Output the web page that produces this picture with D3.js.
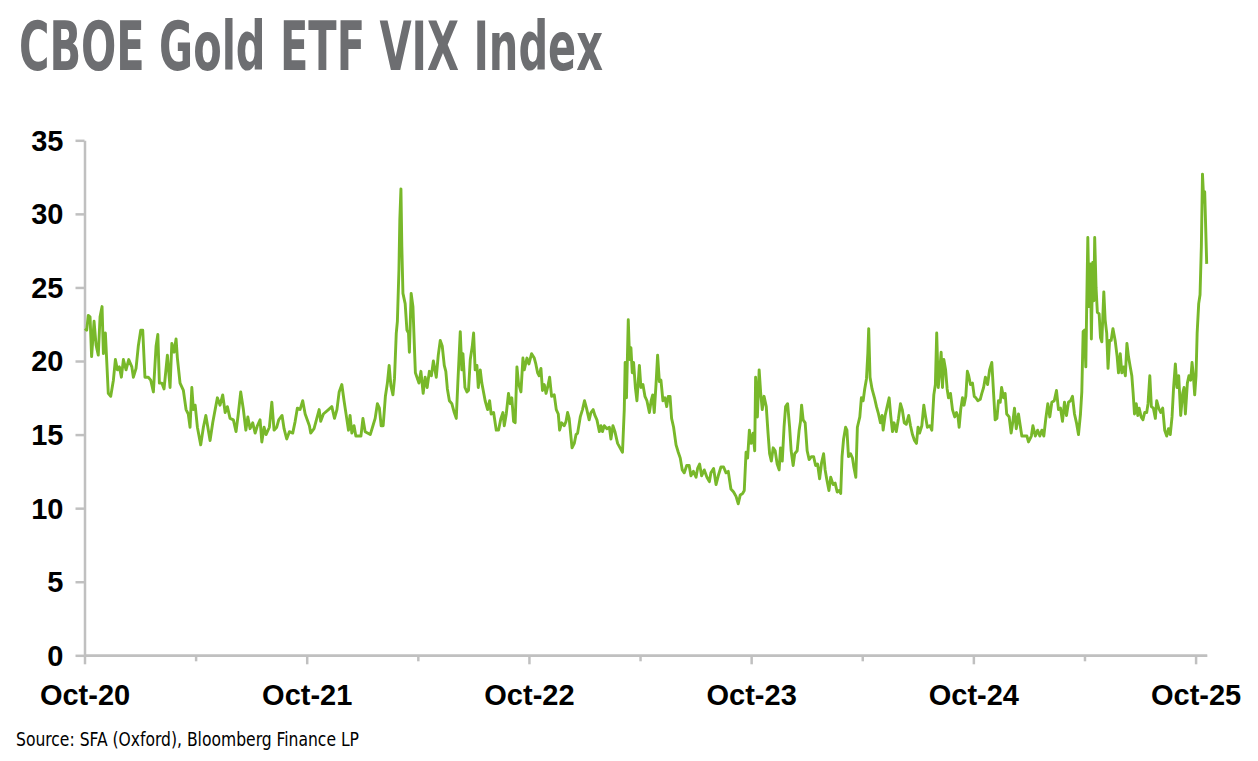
<!DOCTYPE html>
<html>
<head>
<meta charset="utf-8">
<script src="https://cdn.jsdelivr.net/npm/d3@7"></script>
<style>
  html, body { margin: 0; padding: 0; background: #fff; }
  svg { display: block; }
  .axis path, .axis line { stroke: #c0c0c0; stroke-width: 2.5; }
  .axis text { font-family: 'Liberation Sans', Arial, sans-serif; font-weight: bold; font-size: 29px; fill: #000; }
  .line { fill: none; stroke: #78b82a; stroke-width: 2.9; stroke-linejoin: round; }
</style>
</head>
<body>
<script>
// values, time as decimal years
const t1 = [2020.752,2020.760,2020.767,2020.775,2020.782,2020.793,2020.802,2020.812,2020.820,2020.829,2020.835,2020.844,2020.857,2020.868,2020.880,2020.889,2020.898,2020.907,2020.916,2020.925,2020.937,2020.949,2020.963,2020.970,2020.982,2020.992,
  2021.003,2021.012,2021.022,2021.037,2021.048,2021.060,2021.072,2021.080,2021.087,2021.098,2021.108,2021.123,2021.135,2021.143,2021.153,2021.162,2021.168,2021.180,2021.195,2021.207,2021.217,2021.225,2021.233,2021.240,2021.248,2021.258,2021.273,2021.285,2021.296,2021.305,2021.315,2021.327,2021.338,2021.348,2021.360,2021.372,2021.383,2021.393,2021.405,2021.420,2021.432,2021.442,2021.453,2021.465,2021.476,2021.485,2021.495,2021.507,2021.518,2021.528,2021.540,2021.548,2021.558,2021.567,2021.582,2021.593,2021.603,2021.615,2021.624,2021.639,2021.648,2021.660,2021.672,2021.687,2021.698,2021.708,2021.720,2021.732,2021.743,2021.762];
const v1 = [22.2,22.1,23.1,23.0,20.3,22.7,21.1,20.4,23.0,23.7,20.5,21.9,17.8,17.6,18.7,20.1,19.4,19.6,18.9,20.1,19.4,20.1,19.6,18.9,19.5,21.0,
  22.1,22.1,18.9,18.9,18.7,17.9,21.0,21.8,18.5,18.5,18.1,20.4,18.2,21.2,20.6,21.5,20.2,18.5,18.0,16.7,16.4,15.5,18.2,16.7,17.0,15.5,14.3,15.5,16.3,15.5,14.6,15.8,16.7,17.5,17.0,17.7,16.5,16.9,16.1,16.0,15.2,16.4,17.9,16.7,15.3,16.2,15.4,15.8,15.1,15.6,16.0,14.5,15.5,15.0,15.5,17.2,15.3,15.5,16.0,16.3,15.4,14.7,15.2,15.1,15.9,16.8,16.7,17.3,16.4,15.6];

const t2 = [2021.768,2021.783,2021.806,2021.813,2021.825,2021.848,2021.863,2021.875,2021.886,2021.896,2021.908,2021.918,2021.931,2021.938,2021.945,2021.953,2021.963,2021.971,2021.994,
  2022.003,2022.013,2022.036,2022.048,2022.058,2022.068,2022.077,2022.085,2022.094,2022.104,2022.113,2022.121,2022.129,2022.138,2022.145,2022.153,2022.158,2022.165,2022.169,2022.174,2022.178,2022.183,2022.193,2022.201,2022.208,2022.212,2022.220,2022.228,2022.234,2022.239,2022.255,2022.264,2022.274,2022.283,2022.292,2022.302,2022.311,2022.320,2022.333,2022.342,2022.351,2022.360,2022.369,2022.376,2022.383,2022.392,2022.403,2022.414,2022.423,2022.430,2022.441,2022.448,2022.453,2022.462,2022.471,2022.478,2022.486,2022.495,2022.501,2022.508,2022.516,2022.522,2022.531,2022.538,2022.553,2022.564,2022.573,2022.580,2022.591,2022.603,2022.613,2022.624,2022.633,2022.639,2022.648,2022.658,2022.666,2022.673,2022.681,2022.688,2022.696,2022.703,2022.714,2022.723,2022.729,2022.741,2022.750,2022.762];
const v2 = [15.1,15.4,16.7,15.9,16.4,16.7,16.9,16.1,16.7,17.9,18.4,17.3,16.0,15.3,16.3,15.1,15.6,14.9,14.9,
  16.1,15.2,15.0,15.6,16.1,17.1,16.8,15.6,15.6,17.6,18.5,19.7,18.3,17.7,18.8,21.9,22.7,26.2,29.6,31.7,27.8,24.6,23.9,22.1,21.9,20.6,24.6,23.7,21.2,19.2,18.5,19.3,17.8,18.9,18.2,19.3,19.0,20.0,18.9,20.4,21.4,21.0,19.7,19.3,18.1,17.3,17.1,16.5,16.1,18.5,22.0,19.4,20.5,18.2,17.9,18.0,20.1,21.0,21.9,19.4,19.7,18.2,19.4,18.5,17.3,16.7,17.3,16.4,16.5,15.3,15.3,16.1,16.5,15.6,16.4,17.8,17.1,17.5,15.9,15.8,19.6,18.5,17.9,20.2,19.4,20.2,19.8,20.5];

const t3 = [2022.774,2022.781,2022.789,2022.796,2022.804,2022.811,2022.819,2022.827,2022.834,2022.843,2022.852,2022.864,2022.873,2022.882,2022.888,2022.897,2022.909,2022.917,2022.924,2022.931,2022.944,2022.954,2022.962,2022.969,2022.981,2022.991,
  2023.000,2023.009,2023.021,2023.029,2023.039,2023.047,2023.056,2023.067,2023.074,2023.081,2023.089,2023.101,2023.112,2023.119,2023.128,2023.137,2023.149,2023.160,2023.171,2023.179,2023.183,2023.189,2023.197,2023.203,2023.209,2023.215,2023.221,2023.229,2023.236,2023.247,2023.254,2023.263,2023.272,2023.281,2023.292,2023.300,2023.307,2023.314,2023.323,2023.329,2023.337,2023.344,2023.353,2023.362,2023.370,2023.377,2023.385,2023.392,2023.401,2023.412,2023.422,2023.431,2023.440,2023.449,2023.460,2023.471,2023.479,2023.490,2023.502,2023.509,2023.518,2023.527,2023.539,2023.551,2023.562,2023.569,2023.581,2023.592,2023.602,2023.614,2023.626,2023.637,2023.647,2023.659,2023.671,2023.682,2023.692,2023.701,2023.712,2023.719,2023.727,2023.734,2023.742,2023.750,2023.759];
const v3 = [20.2,19.8,19.2,19.0,19.5,18.0,18.4,17.8,18.2,18.9,17.6,17.7,16.7,16.4,15.3,15.8,15.6,15.9,16.5,16.1,14.1,14.4,15.0,15.1,16.2,16.7,
  17.3,16.8,16.0,16.5,16.7,16.3,16.0,15.2,15.6,15.2,15.6,15.4,15.5,14.7,15.6,15.2,14.4,14.1,13.8,16.7,19.9,17.5,22.8,20.1,20.9,19.2,19.9,18.2,17.3,19.7,18.2,18.4,17.6,17.3,16.5,17.3,17.7,16.5,18.7,20.4,18.6,18.7,17.3,17.5,16.9,17.6,17.6,16.1,15.5,14.3,13.8,13.4,12.6,12.4,12.9,12.9,12.2,12.5,12.1,12.7,13.0,12.2,12.6,12.1,11.8,12.4,12.7,11.6,12.2,12.8,12.8,12.4,12.5,11.3,11.1,10.8,10.3,10.9,11.0,11.2,13.8,13.4,15.3,14.4,15.1];

const t4 = [2023.766,2023.770,2023.778,2023.786,2023.793,2023.800,2023.808,2023.818,2023.826,2023.833,2023.841,2023.849,2023.858,2023.867,2023.876,2023.882,2023.890,2023.898,2023.905,2023.914,2023.923,2023.930,2023.939,2023.946,2023.957,2023.966,2023.972,2023.977,2023.984,2023.993,
  2024.002,2024.011,2024.021,2024.031,2024.040,2024.049,2024.058,2024.067,2024.076,2024.083,2024.091,2024.100,2024.108,2024.119,2024.128,2024.137,2024.146,2024.153,2024.159,2024.166,2024.175,2024.181,2024.188,2024.197,2024.206,2024.212,2024.221,2024.228,2024.239,2024.246,2024.254,2024.261,2024.269,2024.275,2024.279,2024.285,2024.294,2024.305,2024.314,2024.323,2024.332,2024.339,2024.344,2024.353,2024.362,2024.371,2024.378,2024.386,2024.393,2024.403,2024.413,2024.422,2024.430,2024.439,2024.448,2024.459,2024.467,2024.476,2024.485,2024.494,2024.501,2024.508,2024.518,2024.527,2024.534,2024.543,2024.554,2024.563,2024.572,2024.579,2024.585,2024.592,2024.599,2024.605,2024.611,2024.617,2024.625,2024.632,2024.638,2024.647,2024.656,2024.666,2024.674,2024.681,2024.686,2024.693,2024.701,2024.708,2024.716,2024.723,2024.729,2024.737,2024.746,2024.754,2024.761];
const v4 = [13.9,18.9,16.2,19.4,17.8,16.7,17.6,16.9,15.1,13.7,13.2,14.1,13.9,13.0,12.6,14.1,13.2,15.5,16.9,17.1,15.5,13.9,12.9,13.7,13.9,15.3,15.9,17.0,16.0,15.8,
  13.9,13.3,13.5,13.5,12.9,13.0,12.0,13.1,13.7,12.6,11.9,11.2,12.1,11.6,11.7,11.1,11.2,11.0,13.5,14.7,15.5,15.3,13.5,13.7,13.4,12.8,12.1,15.5,16.2,17.5,17.3,18.1,18.8,20.5,22.2,18.9,18.1,17.5,16.9,16.4,15.8,16.3,15.3,16.3,16.9,17.5,16.3,15.2,15.8,15.2,16.1,17.1,16.7,15.8,15.7,16.3,15.6,15.0,14.6,14.4,15.5,15.1,15.6,17.0,16.3,15.5,15.6,15.3,17.7,18.4,21.9,18.2,19.4,20.6,18.2,20.1,19.4,18.1,17.5,17.8,16.7,16.2,16.5,16.2,15.5,16.7,17.5,17.0,17.6,19.3,19.0,18.4,18.5,17.6,17.5];

const t5 = [2024.770,2024.781,2024.788,2024.796,2024.804,2024.814,2024.823,2024.833,2024.841,2024.848,2024.856,2024.863,2024.871,2024.877,2024.886,2024.893,2024.900,2024.911,2024.920,2024.927,2024.935,2024.943,2024.953,2024.961,2024.968,2024.980,2024.991,2024.998,
  2025.011,2025.018,2025.029,2025.039,2025.049,2025.058,2025.067,2025.076,2025.085,2025.094,2025.103,2025.114,2025.124,2025.133,2025.142,2025.151,2025.160,2025.169,2025.178,2025.187,2025.196,2025.205,2025.214,2025.223,2025.232,2025.238,2025.244,2025.250,2025.256,2025.260,2025.265,2025.271,2025.277,2025.281,2025.287,2025.292,2025.296,2025.302,2025.308,2025.316,2025.322,2025.328,2025.337,2025.343,2025.350,2025.356,2025.363,2025.370,2025.378,2025.388,2025.397,2025.403,2025.411,2025.418,2025.426,2025.434,2025.441,2025.448,2025.456,2025.463,2025.469,2025.475,2025.483,2025.490,2025.496,2025.505,2025.513,2025.521,2025.530,2025.536,2025.544,2025.551,2025.560,2025.569,2025.575,2025.584,2025.593,2025.602,2025.611,2025.620,2025.628,2025.636,2025.644,2025.651,2025.659,2025.666,2025.674,2025.683,2025.692,2025.698,2025.704,2025.713,2025.720,2025.728,2025.734,2025.740,2025.746,2025.752,2025.757,2025.764,2025.770,2025.776,2025.781,2025.787,2025.791,2025.800];
const v5 = [17.3,17.4,17.8,18.2,18.9,18.4,19.4,19.9,17.8,16.0,16.1,17.3,17.2,18.2,17.5,17.8,16.4,16.2,15.1,15.8,16.8,15.4,16.4,15.6,14.9,14.9,14.9,14.5,
  14.9,15.6,14.9,15.3,14.9,15.3,14.9,16.1,17.1,16.2,17.2,17.3,18.0,16.7,16.8,15.9,17.2,16.3,17.2,17.3,17.6,16.4,15.8,15.0,16.4,17.9,22.0,22.1,19.6,23.7,28.4,23.7,26.6,21.5,26.7,24.1,28.4,25.0,23.3,23.2,21.6,21.3,24.7,22.8,21.9,19.5,21.4,21.4,22.2,21.4,20.3,19.2,20.5,19.2,19.6,19.0,21.2,20.3,19.6,19.0,17.8,16.4,17.1,16.3,16.8,16.2,16.0,16.5,16.5,17.1,19.0,16.9,16.8,16.1,17.3,16.8,16.5,16.8,15.3,14.9,15.4,15.0,16.2,18.2,19.8,18.2,19.0,16.3,17.8,18.2,16.4,18.5,19.0,18.7,19.9,19.0,17.7,19.0,21.9,23.9,24.5,27.8,32.7,30.8,31.5,26.6];

const yTicks = [0, 5, 10, 15, 20, 25, 30, 35];
const majorTicks = [2020.75, 2021.75, 2022.75, 2023.75, 2024.75, 2025.75];
const majorLabels = ["Oct-20", "Oct-21", "Oct-22", "Oct-23", "Oct-24", "Oct-25"];
const minorTicks = [2021.25, 2022.25, 2023.25, 2024.25, 2025.25];

const title = "CBOE Gold ETF VIX Index";
const source = "Source: SFA (Oxford), Bloomberg Finance LP";

let times = [].concat(t1, t2, t3, t4, t5);
let vals = [].concat(v1, v2, v3, v4, v5);
let data = times.map((t, i) => ({t: t, v: vals[i]}));

let W = 1258, H = 761;
let margin = {top: 140.3, left: 84.5}
  , width = 1206.7 - margin.left
  , height = 655.3 - margin.top;

let xScale = d3.scaleLinear().domain([2020.75, 2025.8]).range([0, width]);
let yScale = d3.scaleLinear().domain([0, 35]).range([height, 0]);

let line = d3.line()
    .x(d => xScale(d.t))
    .y(d => yScale(d.v));

const svg = d3.select("body").append("svg")
    .attr("width", W)
    .attr("height", H);

// title
svg.append("text")
    .attr("x", 19)
    .attr("y", 70)
    .attr("textLength", 584)
    .attr("lengthAdjust", "spacingAndGlyphs")
    .style("font-family", "'Liberation Sans Narrow', 'DejaVu Sans Condensed', sans-serif")
    .style("font-weight", "bold")
    .style("font-size", "67px")
    .style("fill", "#6d6e71")
    .text(title);

// source note
svg.append("text")
    .attr("x", 16)
    .attr("y", 746)
    .attr("textLength", 343)
    .attr("lengthAdjust", "spacingAndGlyphs")
    .style("font-family", "'Liberation Sans Narrow', 'DejaVu Sans Condensed', sans-serif")
    .style("font-size", "20px")
    .style("fill", "#000")
    .text(source);

const g = svg.append("g")
    .attr("transform", "translate(" + margin.left + "," + margin.top + ")");

// y axis
g.append("g")
    .attr("class", "y axis")
    .call(d3.axisLeft(yScale).tickValues(yTicks).tickSize(9).tickSizeOuter(0).tickPadding(12));

// minor x ticks (Apr)
g.append("g")
    .attr("class", "x axis minor")
    .attr("transform", "translate(0," + height + ")")
    .call(d3.axisBottom(xScale).tickValues(minorTicks).tickSize(6).tickSizeOuter(0).tickFormat(""));

// major x ticks (Oct)
g.append("g")
    .attr("class", "x axis")
    .attr("transform", "translate(0," + height + ")")
    .call(d3.axisBottom(xScale).tickValues(majorTicks).tickSize(9).tickSizeOuter(0).tickPadding(20)
      .tickFormat((d, i) => majorLabels[i]));

g.selectAll(".y.axis .tick text").attr("dy", "0.34em");

// series
g.append("path")
    .datum(data)
    .attr("class", "line")
    .attr("d", line);
</script>
</body>
</html>
